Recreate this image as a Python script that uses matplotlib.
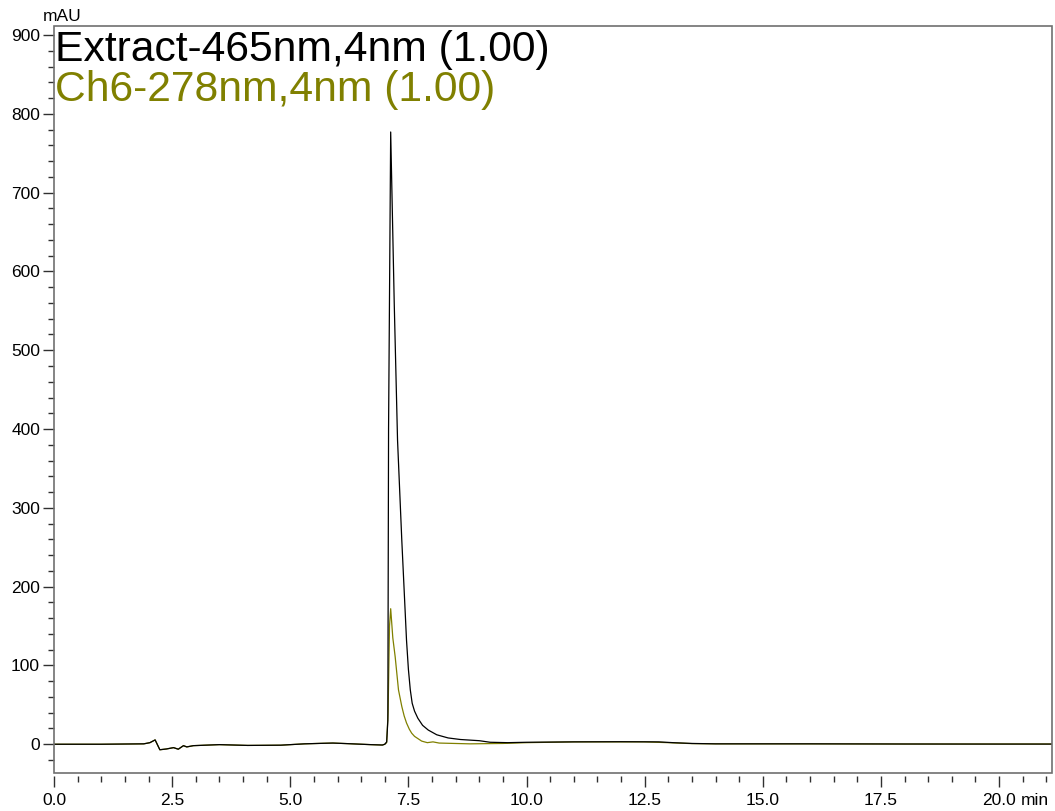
import matplotlib
matplotlib.use("Agg")
import matplotlib.pyplot as plt
from matplotlib.patches import Rectangle
from matplotlib.ticker import MultipleLocator, FormatStrFormatter

plt.rcParams['font.family'] = ['Liberation Sans', 'DejaVu Sans']

# Extract-465nm (black trace)
t_465 = [0.0, 1.0, 1.9, 2.03, 2.14, 2.24, 2.38, 2.53, 2.63, 2.74, 2.81, 2.95, 3.5,
         4.1, 4.8, 5.3, 5.7, 5.9, 6.2, 6.7, 6.95, 7.0, 7.04, 7.065, 7.08, 7.125,
         7.2, 7.27, 7.36, 7.46, 7.5, 7.54, 7.58, 7.63, 7.70, 7.8, 7.92, 8.1, 8.34,
         8.6, 9.0, 9.23, 9.6, 10.0, 11.0, 12.0, 12.8, 13.1, 13.5, 14.0, 16.0, 18.0,
         20.0, 21.2]
v_465 = [0.0, 0.0, 0.5, 2.0, 5.5, -7.0, -6.0, -4.3, -6.3, -1.8, -3.4, -1.8, -0.5,
         -1.5, -1.2, 0.5, 1.2, 1.5, 0.8, -0.5, -1.0, 0.0, 3.0, 30.0, 400.0, 777.0,
         560.0, 386.0, 259.0, 132.0, 95.0, 69.0, 52.0, 42.0, 33.0, 24.0, 18.0, 12.0, 8.0,
         6.0, 4.5, 2.5, 2.0, 2.5, 3.0, 3.2, 3.0, 2.0, 1.0, 0.5, 0.5, 0.3,
         0.2, 0.2]

# Ch6-278nm (olive trace)
t_278 = [0.0, 1.0, 1.9, 2.03, 2.14, 2.24, 2.38, 2.53, 2.63, 2.74, 2.81, 2.95, 3.5,
         4.1, 4.8, 5.3, 5.7, 5.9, 6.2, 6.7, 6.95, 7.0, 7.04, 7.07, 7.1, 7.125,
         7.17, 7.22, 7.29, 7.36, 7.41, 7.46, 7.52, 7.57, 7.63, 7.68, 7.78, 7.9, 8.02,
         8.15, 8.8, 9.5, 10.0, 11.0, 12.5, 13.0, 13.5, 14.0, 16.0, 18.0, 20.0, 21.2]
v_278 = [0.0, 0.0, 0.5, 2.0, 5.5, -7.0, -6.0, -4.3, -6.3, -1.8, -3.4, -1.8, -0.5,
         -1.5, -1.2, 0.5, 1.2, 1.5, 0.8, -0.5, -1.0, 0.0, 2.0, 40.0, 150.0, 172.0,
         135.0, 111.0, 69.0, 48.0, 36.0, 27.0, 19.0, 14.0, 10.0, 8.0, 4.0, 2.0, 3.0,
         1.5, 0.5, 1.0, 2.0, 3.0, 3.0, 2.0, 0.8, 0.5, 0.5, 0.3, 0.3, 0.3]

labels = ["Extract-465nm,4nm (1.00)", "Ch6-278nm,4nm (1.00)"]
colors = ["black", "#808000"]

W, H = 1055, 811
fig = plt.figure(figsize=(W / 100, H / 100), dpi=100)
ax = fig.add_axes([54 / W, 1 - 773 / H, (1052 - 54) / W, (773 - 26) / H])

ax.plot(t_278, v_278, color=colors[1], lw=0.9)
ax.plot(t_465, v_465, color=colors[0], lw=0.9)

ax.set_xlim(0, 21.12)
ax.set_ylim(-36.5, 911.5)

# frame drawn separately so the x ticks can sit a little below it
grey = "#707070"
for s in ax.spines.values():
    s.set_visible(False)
ax.spines['bottom'].set_position(('outward', 2.5))
ax.add_patch(Rectangle((0, 0), 1, 1, transform=ax.transAxes, fill=False,
                       ec=grey, lw=1.2, clip_on=False, zorder=5))

ax.xaxis.set_major_locator(MultipleLocator(2.5))
ax.xaxis.set_minor_locator(MultipleLocator(0.5))
ax.xaxis.set_major_formatter(FormatStrFormatter('%.1f'))
ax.yaxis.set_major_locator(MultipleLocator(100))
ax.yaxis.set_minor_locator(MultipleLocator(20))

ax.tick_params(which='major', length=8, width=1, color='#303030', labelsize=12.5, pad=2)
ax.tick_params(which='minor', length=4, width=1, color='#303030')
ax.tick_params(axis='x', which='major', pad=4)

fig.text(43 / W, 1 - 21 / H, "mAU", fontsize=12.5, va='baseline', ha='left')
fig.text(1021 / W, 1 - 805 / H, "min", fontsize=12.5, va='baseline', ha='left')

fig.text(55 / W, 1 - 61 / H, labels[0], fontsize=30.7, color=colors[0], va='baseline')
fig.text(55 / W, 1 - 101 / H, labels[1], fontsize=30.7, color=colors[1], va='baseline')

fig.savefig("out.png", dpi=100)
